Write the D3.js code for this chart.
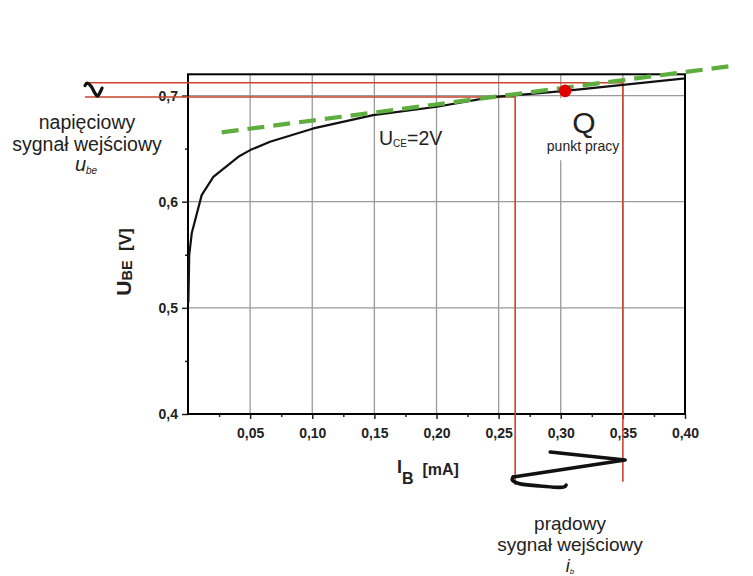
<!DOCTYPE html>
<html><head><meta charset="utf-8">
<script src="https://cdn.jsdelivr.net/npm/d3@7"></script>
<style>
body{margin:0;background:#fff;}
text{font-family:"Liberation Sans",Arial,sans-serif;}
</style></head>
<body><svg id="c" width="753" height="576"></svg>
<script>
// ---- data ----
const ibCurve  = [0.0003, 0.001, 0.003, 0.011, 0.0204, 0.0405, 0.05, 0.066, 0.1009, 0.149, 0.2003, 0.243, 0.3035, 0.35, 0.40];
const ubeCurve = [0.505, 0.55, 0.5702, 0.6062, 0.6234, 0.6423, 0.6486, 0.6564, 0.6690, 0.6815, 0.6894, 0.6982, 0.7044, 0.7100, 0.7161];
const tangentIb  = [0.0271, 0.4364];
const tangentUbe = [0.6653, 0.7277];
const qIb = 0.3035, qUbe = 0.7044;
const ubeSignal = [0.6986, 0.712];   // red horizontal levels
const ibSignal  = [0.2633, 0.35];    // red vertical levels
const xTicks = [0.05, 0.10, 0.15, 0.20, 0.25, 0.30, 0.35, 0.40];
const xTickLabels = ["0,05","0,10","0,15","0,20","0,25","0,30","0,35","0,40"];
const yTicks = [0.4, 0.5, 0.6, 0.7];
const yTickLabels = ["0,4","0,5","0,6","0,7"];
const xMinor = [0.025, 0.075, 0.125, 0.175, 0.225, 0.275, 0.325, 0.375];
const yMinor = [0.45, 0.55, 0.65];
// hand-drawn signal squiggles (data coords)
const ubeWaveIb  = [-0.0829, -0.0813, -0.0781, -0.0749, -0.0729, -0.0709, -0.0692];
const ubeWaveUbe = [0.7093, 0.7117, 0.7089, 0.7023, 0.6994, 0.7027, 0.7070];
const ibWaveTopIb  = [0.2915, 0.3518, 0.2617];
const ibWaveTopUbe = [0.3642, 0.3567, 0.3407];
const ibWaveLowIb  = [0.2617, 0.2610, 0.2662, 0.2834, 0.3027, 0.3043];
const ibWaveLowUbe = [0.3407, 0.3378, 0.3345, 0.3322, 0.3313, 0.3331];

const svg = d3.select("#c");
const x = d3.scaleLinear().domain([0, 0.40]).range([188, 685]);
const y = d3.scaleLinear().domain([0.4, 0.72]).range([414, 74.3]);

// grid
const g = svg.append("g");
g.selectAll("line.gx").data(xTicks.slice(0,-1)).enter().append("line")
  .attr("x1", d=>x(d)).attr("x2", d=>x(d)).attr("y1", y(0.72)).attr("y2", y(0.4))
  .attr("stroke", "#9a9a9a").attr("stroke-width", 1.3);
g.selectAll("line.gy").data(yTicks.slice(1)).enter().append("line")
  .attr("x1", x(0)).attr("x2", x(0.4)).attr("y1", d=>y(d)).attr("y2", d=>y(d))
  .attr("stroke", "#9a9a9a").attr("stroke-width", 1.3);

// white label box behind Q
svg.append("rect").attr("x", x(0.276)).attr("y", y(0.6975)).attr("width", x(0.344)-x(0.276))
  .attr("height", y(0.639)-y(0.6975)).attr("fill", "#fff");

// axes
const xAxis = d3.axisBottom(x).tickValues(xTicks).tickFormat((d,i)=>xTickLabels[i]).tickSize(5).tickPadding(9);
const xg = svg.append("g").attr("transform", `translate(0,${y(0.4)})`).call(xAxis);
const yAxis = d3.axisLeft(y).tickValues(yTicks).tickFormat((d,i)=>yTickLabels[i]).tickSize(6).tickPadding(4);
const yg = svg.append("g").attr("transform", `translate(${x(0)},0)`).call(yAxis);
[xg, yg].forEach(a=>{
  a.select(".domain").remove();
  a.selectAll("text").attr("font-family","Liberation Sans, Arial, sans-serif").attr("font-weight","bold").attr("font-size",14).attr("fill","#222");
  a.selectAll("line").attr("stroke","#222").attr("stroke-width",1.5);
});
const xm = d3.axisBottom(x).tickValues(xMinor).tickFormat("").tickSize(3);
svg.append("g").attr("transform", `translate(0,${y(0.4)})`).call(xm).call(a=>{a.select(".domain").remove();a.selectAll("line").attr("stroke","#222").attr("stroke-width",1.5);});
const ym = d3.axisLeft(y).tickValues(yMinor).tickFormat("").tickSize(3);
svg.append("g").attr("transform", `translate(${x(0)},0)`).call(ym).call(a=>{a.select(".domain").remove();a.selectAll("line").attr("stroke","#222").attr("stroke-width",1.5);});

// frame
svg.append("rect").attr("x", x(0)).attr("y", y(0.72)).attr("width", x(0.4)-x(0)).attr("height", y(0.4)-y(0.72))
  .attr("fill","none").attr("stroke","#000").attr("stroke-width",2);

// red signal lines
const red = "#c9442b";
svg.append("line").attr("x1", x(-0.0829)).attr("x2", x(ibSignal[1])).attr("y1", y(ubeSignal[1])).attr("y2", y(ubeSignal[1])).attr("stroke", red).attr("stroke-width", 1.6);
svg.append("line").attr("x1", x(-0.0829)).attr("x2", x(ibSignal[0])).attr("y1", y(ubeSignal[0])).attr("y2", y(ubeSignal[0])).attr("stroke", red).attr("stroke-width", 1.6);
svg.append("line").attr("x1", x(ibSignal[0])).attr("x2", x(ibSignal[0])).attr("y1", y(ubeSignal[0])).attr("y2", y(0.3331)).attr("stroke", red).attr("stroke-width", 1.6);
svg.append("line").attr("x1", x(ibSignal[1])).attr("x2", x(ibSignal[1])).attr("y1", y(ubeSignal[1])).attr("y2", y(0.3362)).attr("stroke", red).attr("stroke-width", 1.6);

// characteristic curve
const line = d3.line().x(d=>x(d[0])).y(d=>y(d[1]));
svg.append("path").datum(ibCurve.map((v,i)=>[v, ubeCurve[i]]))
  .attr("d", line).attr("fill","none").attr("stroke","#111").attr("stroke-width",2.2).attr("stroke-linejoin","round");

// tangent dashed
svg.append("path").datum(tangentIb.map((v,i)=>[v, tangentUbe[i]]))
  .attr("d", line).attr("fill","none").attr("stroke","#5dae3f").attr("stroke-width",4.2).attr("stroke-dasharray","17,9");

// Q point
svg.append("circle").attr("cx", x(qIb)).attr("cy", y(qUbe)).attr("r", 6.3).attr("fill", "#e00000");

// squiggles
const smooth = d3.line().x(d=>x(d[0])).y(d=>y(d[1])).curve(d3.curveCatmullRom.alpha(0.5));
svg.append("path").datum(ubeWaveIb.map((v,i)=>[v, ubeWaveUbe[i]]))
  .attr("d", smooth)
  .attr("fill","none").attr("stroke","#111").attr("stroke-width",3.2).attr("stroke-linecap","round").attr("stroke-linejoin","round");
svg.append("path").datum(ibWaveTopIb.map((v,i)=>[v, ibWaveTopUbe[i]]))
  .attr("d", line)
  .attr("fill","none").attr("stroke","#111").attr("stroke-width",3.6).attr("stroke-linecap","round").attr("stroke-linejoin","round");
svg.append("path").datum(ibWaveLowIb.map((v,i)=>[v, ibWaveLowUbe[i]]))
  .attr("d", smooth)
  .attr("fill","none").attr("stroke","#111").attr("stroke-width",3.6).attr("stroke-linecap","round").attr("stroke-linejoin","round");

// texts
function txt(xp, yp, s, size, opts={}) {
  const t = svg.append("text").attr("x", xp).attr("y", yp).attr("font-size", size).attr("fill", opts.fill||"#222")
    .attr("text-anchor", opts.anchor||"middle");
  if (opts.weight) t.attr("font-weight", opts.weight);
  if (opts.style) t.attr("font-style", opts.style);
  t.text(s);
  return t;
}
// left annotation
txt(87, 129, "napięciowy", 19.5);
txt(87, 151, "sygnał wejściowy", 19.5);
{
  const t = svg.append("text").attr("x", 86).attr("y", 171).attr("text-anchor","middle").attr("fill","#222").attr("font-style","italic");
  t.append("tspan").attr("font-size",20).text("u");
  t.append("tspan").attr("font-size",10).attr("dy",3).text("be");
}
// bottom annotation
txt(570, 529.5, "prądowy", 19);
txt(570, 551, "sygnał wejściowy", 19);
{
  const t = svg.append("text").attr("x", 570).attr("y", 572).attr("text-anchor","middle").attr("fill","#222").attr("font-style","italic");
  t.append("tspan").attr("font-size",18).text("i");
  t.append("tspan").attr("font-size",8).attr("dy",2).text("b");
}
// Q label
txt(584, 133, "Q", 30);
txt(583, 151, "punkt pracy", 14);
// U_CE=2V
{
  const t = svg.append("text").attr("x", 379).attr("y", 145).attr("fill","#222");
  t.append("tspan").attr("font-size",19.5).text("U");
  t.append("tspan").attr("font-size",10).attr("dy",2).text("CE");
  t.append("tspan").attr("font-size",19.5).attr("dy",-2).text("=2V");
}
// axis titles
{
  const t = svg.append("text").attr("transform","translate(131,262) rotate(-90)").attr("text-anchor","middle").attr("font-weight","bold").attr("fill","#222").attr("xml:space","preserve");
  t.append("tspan").attr("font-size",21).text("U");
  t.append("tspan").attr("font-size",14.5).attr("dy",1).text("BE");
  t.append("tspan").attr("font-size",17).attr("dy",-1).text("  [V]");
}
{
  const t = svg.append("text").attr("x", 397).attr("y", 473).attr("fill","#222").attr("font-weight","bold").attr("xml:space","preserve");
  t.append("tspan").attr("font-size",18).text("I");
  t.append("tspan").attr("font-size",16).attr("dy",11).text("B");
  t.append("tspan").attr("font-size",16).attr("dy",-9).text("  [mA]");
}
</script></body></html>
